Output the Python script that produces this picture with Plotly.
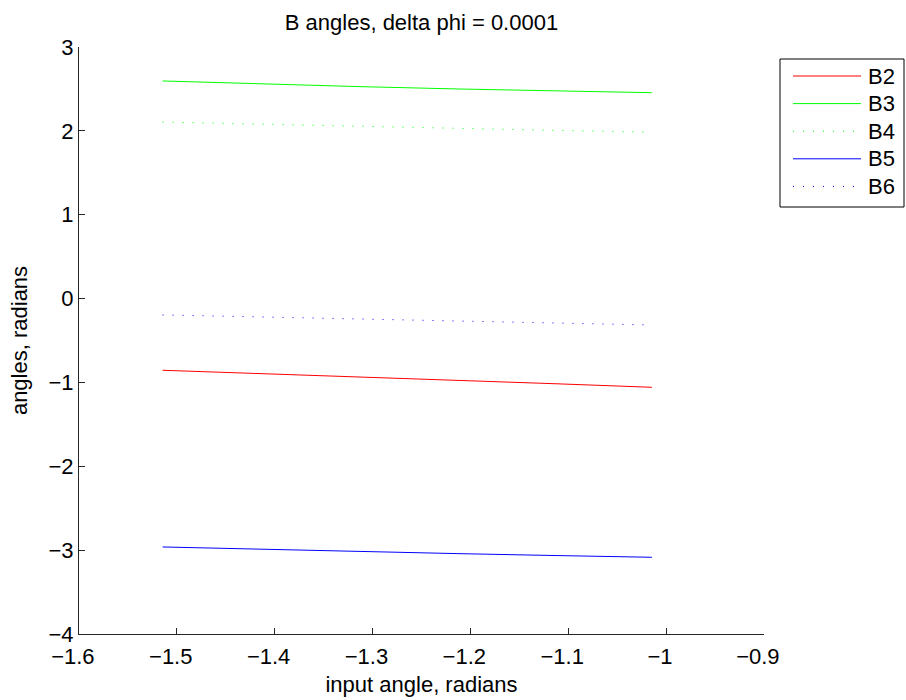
import plotly.graph_objects as go

# input angle samples (radians)
input_angle = [-1.5146, -1.4146, -1.3146, -1.2146, -1.1146, -1.0146]

# output angles per series (radians)
b2 = [-0.855, -0.893, -0.932, -0.972, -1.015, -1.058]
b3 = [2.595, 2.560, 2.528, 2.500, 2.476, 2.455]
b4 = [2.105, 2.079, 2.054, 2.030, 2.006, 1.985]
b5 = [-2.962, -2.990, -3.016, -3.041, -3.064, -3.085]
b6 = [-0.195, -0.220, -0.245, -0.270, -0.294, -0.315]

series_names = ["B2", "B3", "B4", "B5", "B6"]
series_values = [b2, b3, b4, b5, b6]
series_colors = ["#ff0000", "#00ff00", "#00ff00", "#0000ff", "#0000ff"]
series_dash = ["solid", "solid", "1px,9px", "solid", "1px,9px"]

x_ticks = [-1.6, -1.5, -1.4, -1.3, -1.2, -1.1, -1.0, -0.9]
y_ticks = [-4, -3, -2, -1, 0, 1, 2, 3]


def fmt(v):
    s = "%g" % v
    return s.replace("-", "\u2212")


FONT = "Liberation Sans, Arial, Helvetica, sans-serif"
TICK_SIZE = 22
LABEL_SIZE = 22

fig = go.Figure()
for name, vals, col, dash in zip(series_names, series_values, series_colors, series_dash):
    fig.add_trace(go.Scatter(
        x=input_angle, y=vals, mode="lines", name=name,
        line=dict(color=col, width=1, dash=dash),
        showlegend=False,
    ))

# legend box drawn in paper space to the right of the axes
shapes = []
annotations = []
lx0, lx1 = 780, 904
ly0, ly1 = 59, 207
W, H = 906, 700
ml, mr, mt, mb = 79, 142, 47, 66
pw, ph = W - ml - mr, H - mt - mb


def px(x):
    return (x - ml) / pw


def py(y):
    return 1 - (y - mt) / ph


shapes.append(dict(type="rect", xref="paper", yref="paper",
                   x0=px(lx0), x1=px(lx1), y0=py(ly1), y1=py(ly0),
                   line=dict(color="black", width=1), fillcolor="white"))
for i, (name, col, dash) in enumerate(zip(series_names, series_colors, series_dash)):
    yy = 76 + i * 27.6
    shapes.append(dict(type="line", xref="paper", yref="paper",
                       x0=px(793), x1=px(861), y0=py(yy), y1=py(yy),
                       line=dict(color=col, width=1, dash=dash)))
    annotations.append(dict(text=name, xref="paper", yref="paper",
                            x=px(866), y=py(yy), xanchor="left", yanchor="middle",
                            showarrow=False, font=dict(size=TICK_SIZE, color="black", family=FONT)))

fig.update_layout(
    width=W, height=H,
    margin=dict(l=ml, r=mr, t=mt, b=mb),
    paper_bgcolor="white", plot_bgcolor="white",
    font=dict(family=FONT, size=TICK_SIZE, color="black"),
    title=dict(text="B angles, delta phi = 0.0001", x=(ml + pw / 2) / W, xanchor="center",
               y=1 - 22 / H, yanchor="middle", font=dict(size=TICK_SIZE)),
    xaxis=dict(range=[-1.6, -0.9], tickvals=x_ticks,
               # trailing no-break spaces nudge each label slightly left of its tick
               ticktext=[fmt(v) + "\u00a0\u00a0" for v in x_ticks],
               ticks="inside", ticklen=6, tickcolor="#262626", showline=True,
               linecolor="#262626", linewidth=1, showgrid=False, zeroline=False,
               tickfont=dict(size=TICK_SIZE), ticklabelstandoff=3, automargin=False,
               title=dict(text="input angle, radians", standoff=8,
                          font=dict(size=LABEL_SIZE))),
    yaxis=dict(range=[-4, 3], tickvals=y_ticks, ticktext=[fmt(v) for v in y_ticks],
               ticks="inside", ticklen=6, tickcolor="#262626", showline=True,
               linecolor="#262626", linewidth=1, showgrid=False, zeroline=False,
               tickfont=dict(size=TICK_SIZE), automargin=False,
               title=dict(text="angles, radians", standoff=14,
                          font=dict(size=LABEL_SIZE))),
    shapes=shapes, annotations=annotations,
)

fig.write_html("out.html")
